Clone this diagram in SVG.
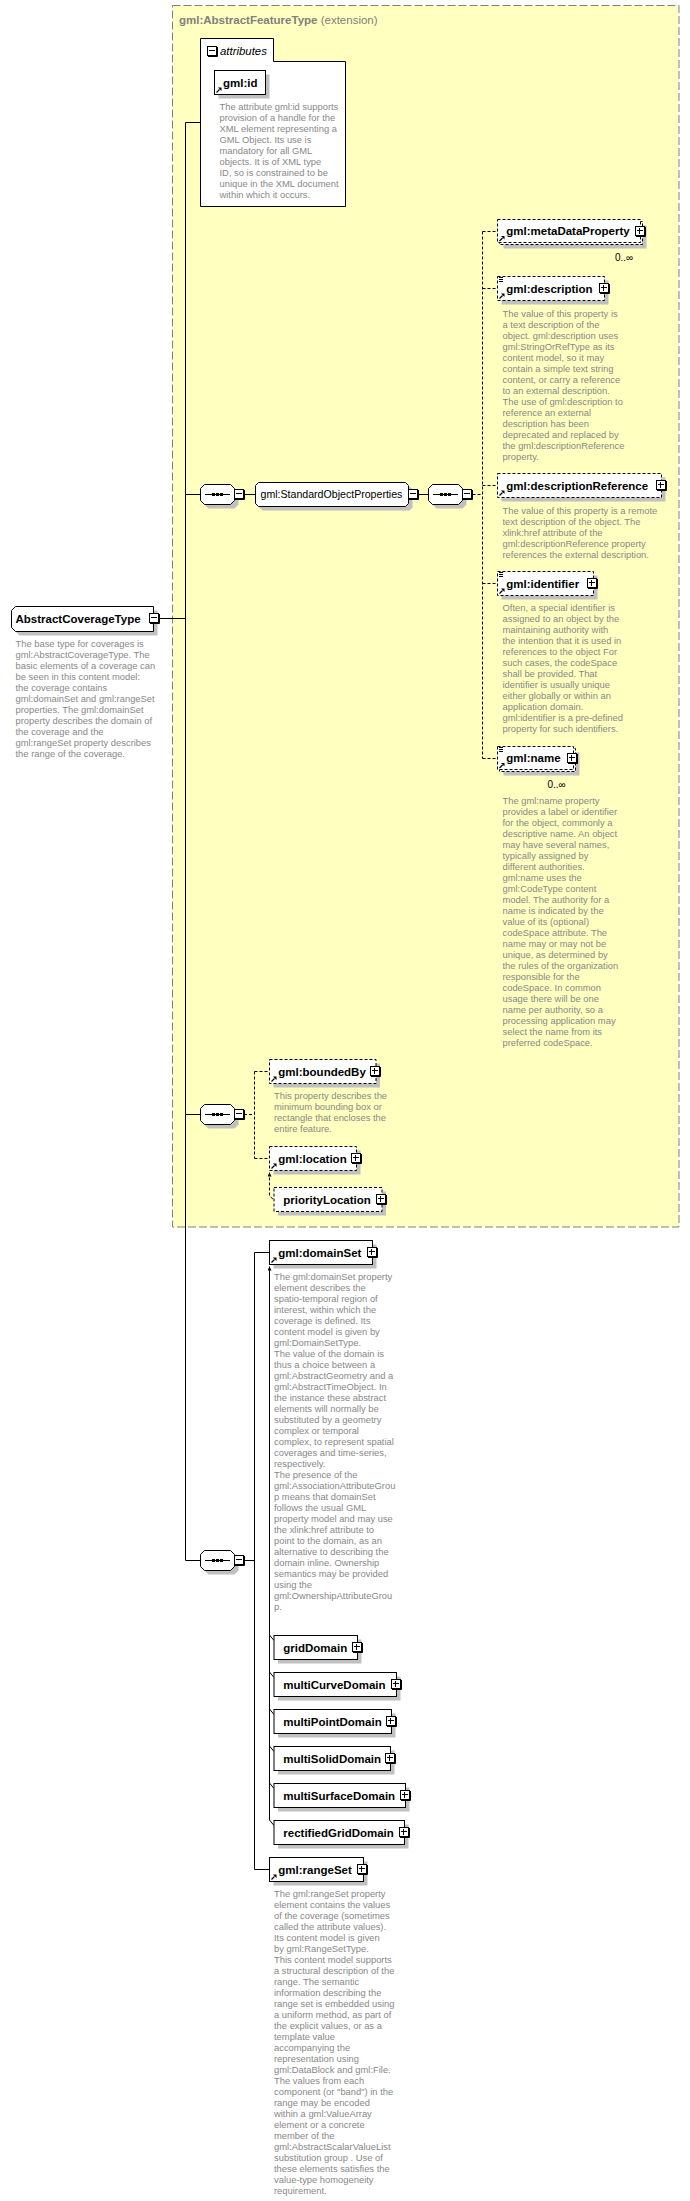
<svg xmlns="http://www.w3.org/2000/svg" xmlns:xlink="http://www.w3.org/1999/xlink" width="690" height="2201" viewBox="0 0 690 2201">
<style>
.sh{fill:#c0c0c0}
.box{fill:#fff;stroke:#000;stroke-width:1}
.dbox{fill:#fff;stroke:#000;stroke-width:1;stroke-dasharray:3,2}
.ln{fill:none;stroke:#000;stroke-width:1}
.dln{fill:none;stroke:#000;stroke-width:1;stroke-dasharray:3,2}
.lbl{font-family:"Liberation Sans",Arial,sans-serif;font-size:11.5px;font-weight:bold;fill:#000}
.grp{font-family:"Liberation Sans",Arial,sans-serif;font-size:10.6px;fill:#000}
.desc{font-family:"Liberation Sans",Arial,sans-serif;font-size:9.4px;fill:#888}
.occ{font-family:"Liberation Sans",Arial,sans-serif;font-size:10px;fill:#000}
.ttl{font-family:"Liberation Sans",Arial,sans-serif;font-size:11.5px;fill:#808080}
</style>
<defs>
<g id="plus"><rect x="0.5" y="0.5" width="9" height="9" fill="#fff" stroke="#000"/><path d="M10.5 1 V10.5 H1" fill="none" stroke="#000"/><path d="M2 4.5 H8 M4.5 2 V8" fill="none" stroke="#000"/></g>
<g id="minus"><rect x="0.5" y="0.5" width="9" height="9" fill="#fff" stroke="#000"/><path d="M10.5 1 V10.5 H1" fill="none" stroke="#000"/><path d="M2 4.5 H8" fill="none" stroke="#000"/></g>
<g id="seq"><polygon class="sh" points="8.5,4.5 34.5,4.5 38.5,8.5 38.5,20.5 34.5,24.5 8.5,24.5 4.5,20.5 4.5,8.5"/><polygon class="box" points="4.5,0.5 30.5,0.5 34.5,4.5 34.5,16.5 30.5,20.5 4.5,20.5 0.5,16.5 0.5,4.5"/><path d="M5 10.5 H30" class="ln"/><rect x="12" y="9" width="3" height="3"/><rect x="16" y="9" width="3" height="3"/><rect x="20" y="9" width="3" height="3"/></g>
<g id="ref"><path d="M0.5 5 L3.5 2" fill="none" stroke="#000" stroke-width="1.3"/><polygon points="2,0 5.5,0 5.5,3.5" fill="#000"/></g>
<g id="mixed"><path d="M0 0.5 H4 M0 2.5 H4 M0 4.5 H4" fill="none" stroke="#000"/></g>
<marker id="subst" viewBox="0 0 4 4" refX="4" refY="2" markerWidth="4" markerHeight="4" markerUnits="userSpaceOnUse" orient="auto-start-reverse"><path d="M0,0 L4,2 L0,4 z" fill="#000"/></marker>
</defs>
<rect x="0" y="0" width="690" height="2201" fill="#fff"/>

<g id="extension">
<rect x="172.5" y="5.5" width="506.5" height="1221.5" fill="#ffffc0" stroke="#808080" stroke-dasharray="8,3"/>
<text class="ttl" x="179" y="23.5"><tspan font-weight="bold">gml:AbstractFeatureType</tspan> (extension)</text>
</g>

<g id="connectors">
<path class="ln" d="M160 618.5 H185.5 M185.5 122.5 V1560.5 M185.5 122.5 H200.5 M185.5 494.5 H200 M185.5 1114.5 H200 M185.5 1560.5 H200"/>
<path class="ln" d="M244 494.5 H255.5 M418.5 494.5 H428"/>
<path class="dln" d="M472.5 494.5 H482.5 M482.5 231.5 V758.5 M482.5 231.5 H497.5 M482.5 288.5 H497.5 M482.5 485.5 H497.5 M482.5 583.5 H497.5 M482.5 758.5 H497.5"/>
<path class="dln" d="M244 1114.5 H254.5 M254.5 1071.5 V1158.5 M254.5 1071.5 H269.5 M254.5 1158.5 H269.5"/>
<path class="dln" d="M269.5 1172.5 V1196 L274 1200" marker-start="url(#subst)"/>
<path class="ln" d="M244 1560.5 H254.5 M254.5 1252.5 V1869.5 M254.5 1252.5 H269.5 M254.5 1869.5 H269.5"/>
<path class="ln" d="M269.5 1266.5 V1820" marker-start="url(#subst)"/>
<path class="ln" d="M269.5 1635 L274 1640.5 M269.5 1672 L274 1677.5 M269.5 1709 L274 1714.5 M269.5 1746 L274 1751.5 M269.5 1783 L274 1788.5 M269.5 1820 L274 1825.5"/>
</g>

<g id="AbstractCoverageType">
<polygon class="sh" points="19.5,610.5 157.5,610.5 157.5,635.5 19.5,635.5 15.5,631.5 15.5,614.5"/>
<polygon class="box" points="15.5,606.5 153.5,606.5 153.5,631.5 15.5,631.5 11.5,627.5 11.5,610.5"/>
<text class="lbl" x="15.5" y="622.5">AbstractCoverageType</text>
<use href="#minus" x="149" y="613"/>
<text class="desc" x="15.5" y="647"><tspan x="15.5">The base type for coverages is</tspan><tspan x="15.5" dy="11">gml:AbstractCoverageType. The</tspan><tspan x="15.5" dy="11">basic elements of a coverage can</tspan><tspan x="15.5" dy="11">be seen in this content model:</tspan><tspan x="15.5" dy="11">the coverage contains</tspan><tspan x="15.5" dy="11">gml:domainSet and gml:rangeSet</tspan><tspan x="15.5" dy="11">properties. The gml:domainSet</tspan><tspan x="15.5" dy="11">property describes the domain of</tspan><tspan x="15.5" dy="11">the coverage and the</tspan><tspan x="15.5" dy="11">gml:rangeSet property describes</tspan><tspan x="15.5" dy="11">the range of the coverage.</tspan></text>
</g>

<g id="attributes">
<path class="box" d="M200.5 206.5 V38.5 H273.5 V61.5 H345.5 V206.5 Z"/>
<use href="#minus" x="207" y="46"/>
<text x="220" y="54.5" font-family="'Liberation Sans',Arial,sans-serif" font-size="11.4" font-style="italic" fill="#000">attributes</text>
</g>

<g id="gml_id">
<rect class="sh" x="218.5" y="74.5" width="51" height="24"/>
<rect class="box" x="214.5" y="70.5" width="51" height="24"/>
<text class="lbl" x="223" y="86.5">gml:id</text>
<use href="#ref" x="216" y="87.5"/>
<text class="desc" x="219.5" y="110"><tspan x="219.5">The attribute gml:id supports</tspan><tspan x="219.5" dy="11">provision of a handle for the</tspan><tspan x="219.5" dy="11">XML element representing a</tspan><tspan x="219.5" dy="11">GML Object. Its use is</tspan><tspan x="219.5" dy="11">mandatory for all GML</tspan><tspan x="219.5" dy="11">objects. It is of XML type</tspan><tspan x="219.5" dy="11">ID, so is constrained to be</tspan><tspan x="219.5" dy="11">unique in the XML document</tspan><tspan x="219.5" dy="11">within which it occurs.</tspan></text>
</g>

<g id="seq_main1"><use href="#seq" x="200" y="484"/><use href="#minus" x="234" y="489"/></g>

<g id="StandardObjectProperties">
<polygon class="sh" points="262.5,486.5 409.5,486.5 412.5,489.5 412.5,507.5 409.5,510.5 262.5,510.5 259.5,507.5 259.5,489.5"/>
<polygon class="box" points="258.5,482.5 405.5,482.5 408.5,485.5 408.5,503.5 405.5,506.5 258.5,506.5 255.5,503.5 255.5,485.5"/>
<text class="grp" x="260.5" y="498.3">gml:StandardObjectProperties</text>
<use href="#minus" x="408" y="489"/>
</g>

<g id="seq_sop"><use href="#seq" x="428" y="484"/><use href="#minus" x="462" y="489"/></g>

<g id="metaDataProperty">
<rect class="sh" x="503.5" y="225.5" width="143" height="23"/>
<rect class="dbox" x="499.5" y="221.5" width="143" height="23"/>
<rect class="dbox" x="497.5" y="219.5" width="143" height="23"/>
<text class="lbl" x="506.3" y="235">gml:metaDataProperty</text>
<use href="#ref" x="499" y="236"/>
<use href="#plus" x="635" y="226"/>
<text class="occ" x="615" y="261">0..∞</text>
</g>

<g id="description">
<rect class="sh" x="501.5" y="280.5" width="107" height="24"/>
<rect class="dbox" x="497.5" y="276.5" width="107" height="24"/>
<use href="#mixed" x="499" y="277"/>
<text class="lbl" x="506.3" y="292.5">gml:description</text>
<use href="#ref" x="499" y="293.5"/>
<use href="#plus" x="599" y="283"/>
<text class="desc" x="502.5" y="317"><tspan x="502.5">The value of this property is</tspan><tspan x="502.5" dy="11">a text description of the</tspan><tspan x="502.5" dy="11">object. gml:description uses</tspan><tspan x="502.5" dy="11">gml:StringOrRefType as its</tspan><tspan x="502.5" dy="11">content model, so it may</tspan><tspan x="502.5" dy="11">contain a simple text string</tspan><tspan x="502.5" dy="11">content, or carry a reference</tspan><tspan x="502.5" dy="11">to an external description.</tspan><tspan x="502.5" dy="11">The use of gml:description to</tspan><tspan x="502.5" dy="11">reference an external</tspan><tspan x="502.5" dy="11">description has been</tspan><tspan x="502.5" dy="11">deprecated and replaced by</tspan><tspan x="502.5" dy="11">the gml:descriptionReference</tspan><tspan x="502.5" dy="11">property.</tspan></text>
</g>

<g id="descriptionReference">
<rect class="sh" x="501.5" y="477.5" width="164" height="24"/>
<rect class="dbox" x="497.5" y="473.5" width="164" height="24"/>
<text class="lbl" x="506.3" y="489.5">gml:descriptionReference</text>
<use href="#ref" x="499" y="490.5"/>
<use href="#plus" x="656" y="480"/>
<text class="desc" x="502.5" y="514"><tspan x="502.5">The value of this property is a remote</tspan><tspan x="502.5" dy="11">text description of the object. The</tspan><tspan x="502.5" dy="11">xlink:href attribute of the</tspan><tspan x="502.5" dy="11">gml:descriptionReference property</tspan><tspan x="502.5" dy="11">references the external description.</tspan></text>
</g>

<g id="identifier">
<rect class="sh" x="501.5" y="575.5" width="96" height="24"/>
<rect class="dbox" x="497.5" y="571.5" width="96" height="24"/>
<use href="#mixed" x="499" y="572"/>
<text class="lbl" x="506.3" y="587.5">gml:identifier</text>
<use href="#ref" x="499" y="588.5"/>
<use href="#plus" x="587" y="578"/>
<text class="desc" x="502.5" y="611"><tspan x="502.5">Often, a special identifier is</tspan><tspan x="502.5" dy="11">assigned to an object by the</tspan><tspan x="502.5" dy="11">maintaining authority with</tspan><tspan x="502.5" dy="11">the intention that it is used in</tspan><tspan x="502.5" dy="11">references to the object For</tspan><tspan x="502.5" dy="11">such cases, the codeSpace</tspan><tspan x="502.5" dy="11">shall be provided. That</tspan><tspan x="502.5" dy="11">identifier is usually unique</tspan><tspan x="502.5" dy="11">either globally or within an</tspan><tspan x="502.5" dy="11">application domain.</tspan><tspan x="502.5" dy="11">gml:identifier is a pre-defined</tspan><tspan x="502.5" dy="11">property for such identifiers.</tspan></text>
</g>

<g id="name">
<rect class="sh" x="503.5" y="752.5" width="76" height="23"/>
<rect class="dbox" x="499.5" y="748.5" width="76" height="23"/>
<rect class="dbox" x="497.5" y="746.5" width="76" height="23"/>
<use href="#mixed" x="499" y="747"/>
<text class="lbl" x="506.3" y="762">gml:name</text>
<use href="#ref" x="499" y="763"/>
<use href="#plus" x="567" y="753"/>
<text class="occ" x="547.5" y="788">0..∞</text>
<text class="desc" x="502.5" y="803.5"><tspan x="502.5">The gml:name property</tspan><tspan x="502.5" dy="11">provides a label or identifier</tspan><tspan x="502.5" dy="11">for the object, commonly a</tspan><tspan x="502.5" dy="11">descriptive name. An object</tspan><tspan x="502.5" dy="11">may have several names,</tspan><tspan x="502.5" dy="11">typically assigned by</tspan><tspan x="502.5" dy="11">different authorities.</tspan><tspan x="502.5" dy="11">gml:name uses the</tspan><tspan x="502.5" dy="11">gml:CodeType content</tspan><tspan x="502.5" dy="11">model.  The authority for a</tspan><tspan x="502.5" dy="11">name is indicated by the</tspan><tspan x="502.5" dy="11">value of its (optional)</tspan><tspan x="502.5" dy="11">codeSpace attribute.  The</tspan><tspan x="502.5" dy="11">name may or may not be</tspan><tspan x="502.5" dy="11">unique, as determined by</tspan><tspan x="502.5" dy="11">the rules of the organization</tspan><tspan x="502.5" dy="11">responsible for the</tspan><tspan x="502.5" dy="11">codeSpace.  In common</tspan><tspan x="502.5" dy="11">usage there will be one</tspan><tspan x="502.5" dy="11">name per authority, so a</tspan><tspan x="502.5" dy="11">processing application may</tspan><tspan x="502.5" dy="11">select the name from its</tspan><tspan x="502.5" dy="11">preferred codeSpace.</tspan></text>
</g>

<g id="seq_main2"><use href="#seq" x="200" y="1104"/><use href="#minus" x="234" y="1109"/></g>

<g id="boundedBy">
<rect class="sh" x="273.5" y="1063.5" width="106.5" height="24"/>
<rect class="dbox" x="269.5" y="1059.5" width="106.5" height="24"/>
<text class="lbl" x="278.3" y="1075.5">gml:boundedBy</text>
<use href="#ref" x="271" y="1076.5"/>
<use href="#plus" x="370" y="1066"/>
<text class="desc" x="274" y="1099"><tspan x="274">This property describes the</tspan><tspan x="274" dy="11">minimum bounding box or</tspan><tspan x="274" dy="11">rectangle that encloses the</tspan><tspan x="274" dy="11">entire feature.</tspan></text>
</g>

<g id="location">
<rect class="sh" x="273.5" y="1150.5" width="87" height="24"/>
<rect class="dbox" x="269.5" y="1146.5" width="87" height="24"/>
<text class="lbl" x="278.3" y="1162.5">gml:location</text>
<use href="#ref" x="271" y="1163.5"/>
<use href="#plus" x="351" y="1153"/>
</g>

<g id="priorityLocation">
<rect class="sh" x="278" y="1191.5" width="108" height="24"/>
<rect class="dbox" x="274" y="1187.5" width="108" height="24"/>
<text class="lbl" x="283.3" y="1203.5">priorityLocation</text>
<use href="#plus" x="376" y="1194"/>
</g>

<g id="seq_main3"><use href="#seq" x="200" y="1550"/><use href="#minus" x="234" y="1555"/></g>

<g id="domainSet">
<rect class="sh" x="273.5" y="1244.5" width="103" height="24"/>
<rect class="box" x="269.5" y="1240.5" width="103" height="24"/>
<text class="lbl" x="278.3" y="1256.5">gml:domainSet</text>
<use href="#ref" x="271" y="1257.5"/>
<use href="#plus" x="367" y="1247"/>
<text class="desc" x="274" y="1280"><tspan x="274">The gml:domainSet property</tspan><tspan x="274" dy="11">element describes the</tspan><tspan x="274" dy="11">spatio-temporal region of</tspan><tspan x="274" dy="11">interest, within which the</tspan><tspan x="274" dy="11">coverage is defined. Its</tspan><tspan x="274" dy="11">content model is given by</tspan><tspan x="274" dy="11">gml:DomainSetType.</tspan><tspan x="274" dy="11">The value of the domain is</tspan><tspan x="274" dy="11">thus a choice between a</tspan><tspan x="274" dy="11">gml:AbstractGeometry and a</tspan><tspan x="274" dy="11">gml:AbstractTimeObject.  In</tspan><tspan x="274" dy="11">the instance these abstract</tspan><tspan x="274" dy="11">elements will normally be</tspan><tspan x="274" dy="11">substituted by a geometry</tspan><tspan x="274" dy="11">complex or temporal</tspan><tspan x="274" dy="11">complex, to represent spatial</tspan><tspan x="274" dy="11">coverages and time-series,</tspan><tspan x="274" dy="11">respectively.</tspan><tspan x="274" dy="11">The presence of the</tspan><tspan x="274" dy="11">gml:AssociationAttributeGrou</tspan><tspan x="274" dy="11">p means that domainSet</tspan><tspan x="274" dy="11">follows the usual GML</tspan><tspan x="274" dy="11">property model and may use</tspan><tspan x="274" dy="11">the xlink:href attribute to</tspan><tspan x="274" dy="11">point to the domain, as an</tspan><tspan x="274" dy="11">alternative to describing the</tspan><tspan x="274" dy="11">domain inline. Ownership</tspan><tspan x="274" dy="11">semantics may be provided</tspan><tspan x="274" dy="11">using the</tspan><tspan x="274" dy="11">gml:OwnershipAttributeGrou</tspan><tspan x="274" dy="11">p.</tspan></text>
</g>

<g id="gridDomain">
<rect class="sh" x="278" y="1639.5" width="83.5" height="24"/>
<rect class="box" x="274" y="1635.5" width="83.5" height="24"/>
<text class="lbl" x="283.3" y="1651.5">gridDomain</text>
<use href="#plus" x="352" y="1642"/>
</g>
<g id="multiCurveDomain">
<rect class="sh" x="278" y="1676.5" width="122.5" height="24"/>
<rect class="box" x="274" y="1672.5" width="122.5" height="24"/>
<text class="lbl" x="283.3" y="1688.5">multiCurveDomain</text>
<use href="#plus" x="391" y="1679"/>
</g>
<g id="multiPointDomain">
<rect class="sh" x="278" y="1713.5" width="117.5" height="24"/>
<rect class="box" x="274" y="1709.5" width="117.5" height="24"/>
<text class="lbl" x="283.3" y="1725.5">multiPointDomain</text>
<use href="#plus" x="386" y="1716"/>
</g>
<g id="multiSolidDomain">
<rect class="sh" x="278" y="1750.5" width="116.5" height="24"/>
<rect class="box" x="274" y="1746.5" width="116.5" height="24"/>
<text class="lbl" x="283.3" y="1762.5">multiSolidDomain</text>
<use href="#plus" x="385" y="1753"/>
</g>
<g id="multiSurfaceDomain">
<rect class="sh" x="278" y="1787.5" width="131.5" height="24"/>
<rect class="box" x="274" y="1783.5" width="131.5" height="24"/>
<text class="lbl" x="283.3" y="1799.5">multiSurfaceDomain</text>
<use href="#plus" x="400" y="1790"/>
</g>
<g id="rectifiedGridDomain">
<rect class="sh" x="278" y="1824.5" width="130.5" height="24"/>
<rect class="box" x="274" y="1820.5" width="130.5" height="24"/>
<text class="lbl" x="283.3" y="1836.5">rectifiedGridDomain</text>
<use href="#plus" x="399" y="1827"/>
</g>

<g id="rangeSet">
<rect class="sh" x="273.5" y="1861.5" width="94" height="24"/>
<rect class="box" x="269.5" y="1857.5" width="94" height="24"/>
<text class="lbl" x="278.3" y="1873.5">gml:rangeSet</text>
<use href="#ref" x="271" y="1874.5"/>
<use href="#plus" x="357" y="1864"/>
<text class="desc" x="274" y="1897"><tspan x="274">The gml:rangeSet property</tspan><tspan x="274" dy="11">element contains the values</tspan><tspan x="274" dy="11">of the coverage (sometimes</tspan><tspan x="274" dy="11">called the attribute values).</tspan><tspan x="274" dy="11">Its content model is given</tspan><tspan x="274" dy="11">by gml:RangeSetType.</tspan><tspan x="274" dy="11">This content model supports</tspan><tspan x="274" dy="11">a structural description of the</tspan><tspan x="274" dy="11">range.  The semantic</tspan><tspan x="274" dy="11">information describing the</tspan><tspan x="274" dy="11">range set is embedded using</tspan><tspan x="274" dy="11">a uniform method, as part of</tspan><tspan x="274" dy="11">the explicit values, or as a</tspan><tspan x="274" dy="11">template value</tspan><tspan x="274" dy="11">accompanying the</tspan><tspan x="274" dy="11">representation using</tspan><tspan x="274" dy="11">gml:DataBlock and gml:File.</tspan><tspan x="274" dy="11">The values from each</tspan><tspan x="274" dy="11">component (or "band") in the</tspan><tspan x="274" dy="11">range may be encoded</tspan><tspan x="274" dy="11">within a gml:ValueArray</tspan><tspan x="274" dy="11">element or a concrete</tspan><tspan x="274" dy="11">member of the</tspan><tspan x="274" dy="11">gml:AbstractScalarValueList</tspan><tspan x="274" dy="11">substitution group . Use of</tspan><tspan x="274" dy="11">these elements satisfies the</tspan><tspan x="274" dy="11">value-type homogeneity</tspan><tspan x="274" dy="11">requirement.</tspan></text>
</g>
</svg>
